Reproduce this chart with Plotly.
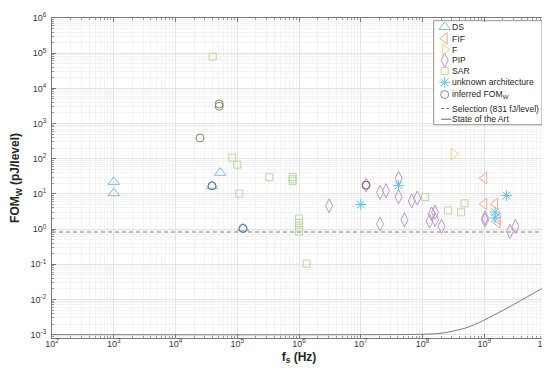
import plotly.graph_objects as go

# ---------------- data ----------------
ds_fs = [1e3, 1e3, 3.9e4, 5.3e4, 1.24e5]
ds_fom = [22, 10.5, 17, 40, 1.05]

fif_fs = [1e9, 1e9, 1.5e9, 1.65e9, 1.65e9]
fif_fom = [28, 5.2, 5.2, 1.95, 1.55]

f_fs = [3.2e8]
f_fom = [135]

pip_fs = [3.07e6, 1.22e7, 2.05e7, 2.56e7, 2.05e7, 4.1e7, 4.1e7, 5.1e7, 6.7e7, 8.2e7,
          1.41e8, 1.6e8, 1.3e8, 1.6e8, 2.04e8, 1.03e9, 1.03e9, 2.6e9, 3.2e9]
pip_fom = [4.6, 17.8, 11.1, 12.3, 1.4, 28, 8.3, 1.85, 6.3, 7.6,
           2.7, 3.0, 1.7, 1.85, 1.2, 2.1, 1.8, 0.86, 1.2]

sar_fs = [4.0e4, 8.3e4, 1.0e5, 1.08e5, 3.3e5, 7.9e5, 7.9e5, 7.9e5, 1.0e6, 1.0e6, 1.0e6, 1.0e6,
          1.33e6, 1.1e8, 2.6e8, 4.2e8, 4.8e8]
sar_fom = [8e4, 108, 68, 10.2, 30, 30, 26, 23, 2.0, 1.5, 1.1, 0.85,
           0.105, 8.1, 3.4, 3.0, 5.4]

unk_fs = [1.0e7, 4.1e7, 1.5e9, 1.5e9, 2.3e9]
unk_fom = [5.0, 17.5, 3.05, 2.1, 9.0]

inf_fs = [2.5e4, 5.1e4, 5.1e4, 3.9e4, 1.24e5, 1.22e7]
inf_fom = [390, 3600, 3100, 17, 1.05, 17.8]
inf_arch = ["SAR", "SAR", "SAR", "DS", "DS", "PIP"]

selection_fom = 0.831
selection_fs = [1e2, 1e10]

sota_fs = [1e2, 1e7, 1e8, 2e8, 3e8, 5e8, 7e8, 1e9, 2e9, 3e9, 5e9, 7e9, 1e10]
sota_fom = [1e-3, 1e-3, 1.03e-3, 1.1e-3, 1.25e-3, 1.55e-3, 1.95e-3, 2.6e-3, 4.9e-3,
            7.2e-3, 1.2e-2, 1.67e-2, 2.37e-2]

x_tickvals = [1e2, 1e3, 1e4, 1e5, 1e6, 1e7, 1e8, 1e9, 1e10]
x_ticktext = ["10<sup>2</sup>", "10<sup>3</sup>", "10<sup>4</sup>", "10<sup>5</sup>", "10<sup>6</sup>",
              "10<sup>7</sup>", "10<sup>8</sup>", "10<sup>9</sup>", "10<sup>10</sup>"]
y_tickvals = [1e-3, 1e-2, 1e-1, 1e0, 1e1, 1e2, 1e3, 1e4, 1e5, 1e6]
y_ticktext = ["10<sup>-3</sup>", "10<sup>-2</sup>", "10<sup>-1</sup>", "10<sup>0</sup>", "10<sup>1</sup>",
              "10<sup>2</sup>", "10<sup>3</sup>", "10<sup>4</sup>", "10<sup>5</sup>", "10<sup>6</sup>"]

legend_labels = ["DS", "FIF", "F", "PIP", "SAR", "unknown architecture",
                 "inferred FOM<sub>W</sub>", "Selection (831 fJ/level)", "State of the Art"]

# ---------------- styles ----------------
FONT = "Liberation Sans, Arial, sans-serif"
sty = {
    "DS": dict(symbol="triangle-up-open", color="#84b9e0", size=10),
    "FIF": dict(symbol="triangle-left-open", color="#f0a88a", size=10),
    "F": dict(symbol="triangle-right-open", color="#f5cf86", size=10),
    "PIP": dict(symbol="diamond-tall-open", color="#bb98c8", size=10),
    "SAR": dict(symbol="square-open", color="#bcd79c", size=7),
    "UNK": dict(symbol="asterisk-open", color="#5cc6f0", size=9),
    "INF": dict(symbol="circle-open", color="#8a8a8a", size=8),
}
inf_colors = {"SAR": "#7d8a66", "DS": "#5a7290", "PIP": "#6e5880"}
SEL_COLOR = "#ababab"
SOTA_COLOR = "#7a7a7a"


def mk(s):
    return dict(symbol=s["symbol"], color=s["color"], size=s["size"],
                line=dict(width=1, color=s["color"]))


fig = go.Figure()

fig.add_trace(go.Scatter(x=selection_fs, y=[selection_fom] * len(selection_fs), mode="lines",
                         line=dict(color=SEL_COLOR, width=1.5, dash="4px,3px"), showlegend=False))
fig.add_trace(go.Scatter(x=sota_fs, y=sota_fom, mode="lines", line=dict(color=SOTA_COLOR, width=1, shape="spline"),
                         showlegend=False))

for xs, ys, key in [(sar_fs, sar_fom, "SAR"), (pip_fs, pip_fom, "PIP"), (f_fs, f_fom, "F"),
                    (fif_fs, fif_fom, "FIF"), (ds_fs, ds_fom, "DS"), (unk_fs, unk_fom, "UNK")]:
    fig.add_trace(go.Scatter(x=xs, y=ys, mode="markers", marker=mk(sty[key]), showlegend=False))

for arch in ["SAR", "DS", "PIP"]:
    xs = [x for x, a in zip(inf_fs, inf_arch) if a == arch]
    ys = [y for y, a in zip(inf_fom, inf_arch) if a == arch]
    s = dict(sty["INF"], color=inf_colors[arch])
    fig.add_trace(go.Scatter(x=xs, y=ys, mode="markers", marker=mk(s), showlegend=False))

# ---------------- custom compact legend (pixel-like overlay axes) ----------------
L, R, T, B = 44, 12, 10, 42
W, H = 550, 372
box = dict(x0=425.7, x1=534, y0=12.7, y1=116.7)
rows_y = [19, 30.5, 41.5, 52.3, 62.9, 74.3, 86.6, 100.5, 111.2]
glyph_x = 436.7
line_x = [433.2, 443.5]
text_x = 442.6

fig.add_trace(go.Scatter(x=[box["x0"], box["x1"], box["x1"], box["x0"], box["x0"]],
                         y=[box["y0"], box["y0"], box["y1"], box["y1"], box["y0"]],
                         mode="lines", fill="toself", fillcolor="white",
                         line=dict(color="#7a7a7a", width=0.8), xaxis="x2", yaxis="y2",
                         showlegend=False, hoverinfo="skip"))
for i, key in enumerate(["DS", "FIF", "F", "PIP", "SAR", "UNK", "INF"]):
    fig.add_trace(go.Scatter(x=[glyph_x], y=[rows_y[i]], mode="markers", marker=mk(sty[key]),
                             xaxis="x2", yaxis="y2", showlegend=False, hoverinfo="skip"))
fig.add_trace(go.Scatter(x=line_x, y=[rows_y[7]] * 2, mode="lines",
                         line=dict(color="#777777", width=1, dash="3px,2px"),
                         xaxis="x2", yaxis="y2", showlegend=False, hoverinfo="skip"))
fig.add_trace(go.Scatter(x=line_x, y=[rows_y[8]] * 2, mode="lines",
                         line=dict(color="#666666", width=1),
                         xaxis="x2", yaxis="y2", showlegend=False, hoverinfo="skip"))
for i, lab in enumerate(legend_labels):
    fig.add_annotation(x=text_x, y=rows_y[i], xref="x2", yref="y2", text=lab, showarrow=False,
                       xanchor="left", yanchor="middle", borderpad=0,
                       font=dict(family=FONT, size=8.6, color="#262626"))

axis_common = dict(type="log", showline=True, linecolor="#7a7a7a", linewidth=1, mirror="ticks",
                   ticks="inside", ticklen=4, tickcolor="#7a7a7a", showgrid=True, gridcolor="#e4e4e4",
                   gridwidth=1, zeroline=False, automargin=False,
                   tickfont=dict(family=FONT, size=9, color="#3a3a3a"),
                   minor=dict(ticks="inside", ticklen=2, tickcolor="#9a9a9a", showgrid=True,
                              gridcolor="#f3f3f3", dtick="D1"))

fig.update_layout(
    width=W, height=H, margin=dict(l=L, r=R, t=T, b=B, autoexpand=False), paper_bgcolor="white",
    plot_bgcolor="white", showlegend=False,
    xaxis=dict(axis_common, range=[2, 10], tickvals=x_tickvals, ticktext=x_ticktext, ticklabelstandoff=-3,
               title=dict(text="<b>f<sub>s</sub> (Hz)</b>", font=dict(family=FONT, size=12, color="#262626"),
                          standoff=4)),
    yaxis=dict(axis_common, range=[-3.094, 6], tickvals=y_tickvals, ticktext=y_ticktext,
               ticklabelstandoff=3,
               title=dict(text="<b>FOM<sub>W</sub> (pJ/level)</b>", font=dict(family=FONT, size=12, color="#262626"),
                          standoff=14)),
    xaxis2=dict(overlaying="x", anchor="y2", range=[L, W - R], visible=False, fixedrange=True,
                automargin=False),
    yaxis2=dict(overlaying="y", anchor="x2", range=[H - B, T], visible=False, fixedrange=True,
                automargin=False),
)

fig.write_html("out.html")
